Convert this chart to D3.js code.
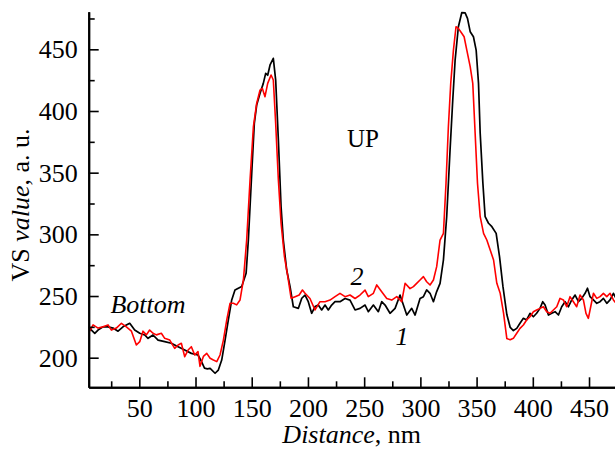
<!DOCTYPE html>
<html>
<head>
<meta charset="utf-8">
<script src="https://cdn.jsdelivr.net/npm/d3@7"></script>
<style>
  html, body { margin: 0; padding: 0; background: #fff; }
  svg { display: block; font-family: "Liberation Serif", "Times New Roman", serif; }
</style>
</head>
<body>
<div id="chart"></div>
<script>
// Curve 1 (black): distance in nm, VS value in a. u.
const dist1 = [5.9, 10.4, 13.3, 17.7, 22.2, 26.6, 31.1, 35.5, 41.5, 45.9, 50.4, 54.8, 57.8, 62.2, 66.7, 72.6, 78.5, 84.5, 90.4, 96.3,
  102.2, 104.5, 108, 110.5, 113, 117.4, 120.3, 123.3, 126.3, 129.2, 132.2, 135.1, 138.1, 141.1, 145, 147, 150, 152.3, 154.4, 157.4,
  160.3, 162.4, 164.2, 166.3, 169.2, 171.3, 173.7, 176.1, 178.1, 181.1, 184.1, 187, 191.5, 194.5, 197.4, 200.3, 203.3, 206.3, 209.2, 212.2,
  215.2, 218.1, 221.1, 224.1, 228.5, 233, 237.4, 241.9, 246.3, 250.8, 253.7, 258.2, 262.6, 265.6, 268.6, 273, 277.5, 281.9, 284.9, 287.9,
  292.3, 295.3, 299.7, 302.7, 305.6, 308.6, 311.6, 314.5, 317.5, 320.5, 323.4, 326.4, 328.8, 330.9, 333.8, 336.8, 339.8, 341.9, 344.3, 347.2,
  349.6, 351.7, 353.2, 355.6, 357.6, 360.6, 363.6, 367.4, 370.4, 373.4, 376.9, 379.9, 382.7, 385.7, 388.6, 391.6, 394.5, 397.5, 400.5, 403.4,
  406.4, 408.8, 410.9, 413.9, 416.8, 419.8, 422.8, 425.7, 428.7, 431.7, 434.6, 437.6, 440.6, 443.5, 446.5, 448.6, 450.9, 453.9, 456.9, 459.8,
  462.8, 465.8, 468.7, 471.7, 474];
const value1 = [223.8, 219.8, 222.4, 225, 225, 224, 221.5, 225, 227.9, 222.4, 219.8, 218.4, 215.7, 218.4, 214.3, 213, 211.7, 208.9, 206.2, 203.5,
  202.2, 198.5, 191.5, 191, 191.4, 187.4, 190, 198.1, 214.3, 230.6, 246.8, 254.9, 256.3, 257.7, 268.4, 295.4, 349.5, 390, 404.8, 414.3,
  422.4, 430.5, 429, 437.3, 442.7, 425.1, 376.5, 322.4, 295.4, 271.1, 257.6, 241.3, 240, 248.2, 250.8, 245.4, 236, 241.4, 242.7, 238.7,
  242.7, 238.7, 242.7, 245.4, 245.4, 248, 246.7, 238.7, 240, 242.7, 237.3, 242.7, 237.3, 245.4, 242.7, 236, 240, 250.8, 242.7, 234.6,
  240, 234.6, 248, 249.5, 254.9, 252.2, 245.4, 253.6, 260.3, 279.2, 314.3, 368.4, 408.9, 441.3, 468.3, 479.7, 479.5, 475.1, 464.3, 460.2,
  449.4, 422.4, 381.9, 341.4, 314.3, 309, 306.2, 300.8, 281.9, 258, 235, 224.5, 222, 223.8, 227.9, 231.9, 230.6, 236, 233.2, 236,
  240, 245.4, 242.7, 234.6, 236, 237.3, 234.6, 241.3, 245.4, 241.3, 246.8, 250.8, 245.4, 248.1, 252.2, 256.3, 249.5, 246.8, 244.1, 245.4,
  248.1, 244.1, 246.8, 252.2, 248.1];

// Curve 2 (red)
const dist2 = [5.9, 8.9, 13.3, 17.7, 22.2, 25.2, 29.6, 34.1, 38.5, 43, 47.4, 50.4, 53.3, 56.3, 59.2, 62.2, 65.2, 69.6, 72.6, 77.1,
  81.5, 84.5, 87.4, 90.4, 93.4, 96.3, 99.3, 102.2, 104, 107, 110, 113, 115.9, 118.9, 121.8, 124.8, 127.8, 130.7, 133.7, 136.6,
  139.6, 142.6, 145.5, 148.5, 151.5, 154.4, 157.4, 159.4, 161.8, 164.2, 167.2, 169.2, 171.3, 173.7, 176.1, 179.1, 182.1, 185, 188.6, 192.2,
  195.1, 197.4, 201.8, 206.3, 210.7, 215.2, 219.6, 224.1, 228.5, 233, 237.4, 241.9, 246.3, 250.8, 253.7, 258.2, 261.2, 265.6, 270.1, 274.5,
  279, 283.4, 286.4, 290.8, 293.8, 296.7, 299.7, 302.7, 305.6, 308.6, 311.6, 314.5, 317.5, 320.5, 322.8, 324.9, 327, 329.4, 331.7, 333.8,
  336.8, 338.9, 341.3, 344.3, 346.6, 348.7, 350.8, 353.2, 356.2, 359.1, 362.1, 365.1, 368, 371, 374, 376.9, 379.9, 382.7, 385.7, 388.6,
  391.6, 394.5, 397.5, 400.5, 403.4, 406.4, 409.4, 412.4, 415.3, 418.3, 421.3, 424.2, 427.2, 430.1, 433.1, 436.1, 439, 442, 445, 447.3,
  449.4, 451.5, 453.9, 456.9, 459.8, 462.8, 465.8, 468.7, 471.7, 474];
const value2 = [221.5, 226.6, 224, 225, 226.6, 222.4, 224, 227.9, 225, 221.5, 210.3, 213, 221.5, 218.5, 222.4, 219.8, 218.5, 219.8, 215.7, 214.3,
  207.6, 210.3, 211.7, 200.8, 206.2, 208.9, 202.2, 204.9, 193, 201, 203.5, 199.5, 198.1, 196.8, 202.2, 214.3, 230.6, 244.1, 244.1, 242.8,
  246.8, 263, 295.4, 344, 387.3, 406.1, 417, 418.4, 411.6, 422.4, 429.2, 425.1, 390, 344, 309, 281.9, 265.7, 248.2, 249.5, 250.8,
  254.9, 252.2, 248, 238.7, 245.4, 245.4, 246.7, 249.5, 252.2, 249.5, 250.8, 248, 250.8, 254.8, 249.5, 252.2, 259, 253.5, 248, 246.7,
  249.5, 245.4, 260.3, 256, 257.6, 260.3, 263, 265.7, 261.6, 258.9, 263, 273.8, 295.4, 300.8, 341.4, 387.3, 422.4, 449.4, 468.3, 467,
  463, 460.2, 449.4, 435.9, 422.4, 381.9, 341.4, 314.3, 300.8, 295.4, 287.3, 279.2, 260.3, 252.2, 236, 215.5, 214.5, 215.7, 219.8, 223.8,
  226.5, 230.6, 233.2, 237.3, 238.7, 240, 241.3, 237.3, 236, 238.7, 241.3, 248.1, 246.8, 241.3, 249.5, 245.4, 241.3, 250.8, 246.8, 236,
  231.9, 241.3, 252.2, 248.1, 249.5, 252.2, 249.5, 252.2, 246.8, 244.1];

const xMajor = [50, 100, 150, 200, 250, 300, 350, 400, 450];
const xMinor = [25, 75, 125, 175, 225, 275, 325, 375, 425];
const yMajor = [200, 250, 300, 350, 400, 450];
const yMinor = [225, 275, 325, 375, 425, 475];

const width = 615, height = 449;
const plotLeft = 88.7, plotTop = 11.7, plotBottom = 387.3;
const serif = "Liberation Serif, Times New Roman, serif";

const x = d3.scaleLinear().domain([5, 473.1]).range([plotLeft, width]);
const y = d3.scaleLinear().domain([176, 480.5]).range([plotBottom, plotTop]);

const svg = d3.select("#chart").append("svg")
  .attr("width", width)
  .attr("height", height);

const line = d3.line().x(d => x(d[0])).y(d => y(d[1]));

svg.append("path")
  .datum(d3.zip(dist1, value1))
  .attr("fill", "none")
  .attr("stroke", "#000")
  .attr("stroke-width", 1.7)
  .attr("stroke-linejoin", "round")
  .attr("d", line);

svg.append("path")
  .datum(d3.zip(dist2, value2))
  .attr("fill", "none")
  .attr("stroke", "#ff0000")
  .attr("stroke-width", 1.6)
  .attr("stroke-linejoin", "round")
  .attr("d", line);

// axes (ticks point inward)
svg.append("g").attr("transform", `translate(0,${plotBottom})`)
  .call(d3.axisBottom(x).tickValues(xMajor).tickSize(-10).tickSizeOuter(0).tickPadding(11).tickFormat(d3.format("d")));
svg.append("g").attr("transform", `translate(0,${plotBottom})`)
  .call(d3.axisBottom(x).tickValues(xMinor).tickSize(-6).tickSizeOuter(0).tickFormat(""));

const yAxis = svg.append("g").attr("transform", `translate(${plotLeft},0)`)
  .call(d3.axisLeft(y).tickValues(yMajor).tickSize(-10).tickSizeOuter(0).tickPadding(11).tickFormat(d3.format("d")));
svg.append("g").attr("transform", `translate(${plotLeft},0)`)
  .call(d3.axisLeft(y).tickValues(yMinor).tickSize(-6).tickSizeOuter(0).tickFormat(""));

svg.selectAll("g").attr("font-family", serif).attr("font-size", 26);
svg.selectAll(".domain").attr("stroke", "#000").attr("stroke-width", 2);
svg.selectAll(".tick line").attr("stroke", "#000").attr("stroke-width", 1.6);
svg.selectAll(".tick text").attr("fill", "#000");
yAxis.selectAll(".tick text").attr("dy", "0.33em");

// axis titles
const xt = svg.append("text")
  .attr("x", 351.7).attr("y", 443)
  .attr("text-anchor", "middle")
  .style("font-size", "26px");
xt.append("tspan").style("font-style", "italic").text("Distance");
xt.append("tspan").text(", nm");

const yt = svg.append("text")
  .attr("transform", "translate(29,205) rotate(-90)")
  .attr("text-anchor", "middle")
  .style("font-size", "26px");
yt.append("tspan").text("VS ");
yt.append("tspan").style("font-style", "italic").text("value");
yt.append("tspan").text(", a. u.");

// annotations
svg.append("text").attr("x", 363).attr("y", 147).attr("text-anchor", "middle")
  .style("font-size", "25px").text("UP");
svg.append("text").attr("x", 148).attr("y", 313).attr("text-anchor", "middle")
  .style("font-size", "26px").style("font-style", "italic").text("Bottom");
svg.append("text").attr("x", 357).attr("y", 285).attr("text-anchor", "middle")
  .style("font-size", "26px").style("font-style", "italic").text("2");
svg.append("text").attr("x", 402).attr("y", 345).attr("text-anchor", "middle")
  .style("font-size", "26px").style("font-style", "italic").text("1");
</script>
</body>
</html>
